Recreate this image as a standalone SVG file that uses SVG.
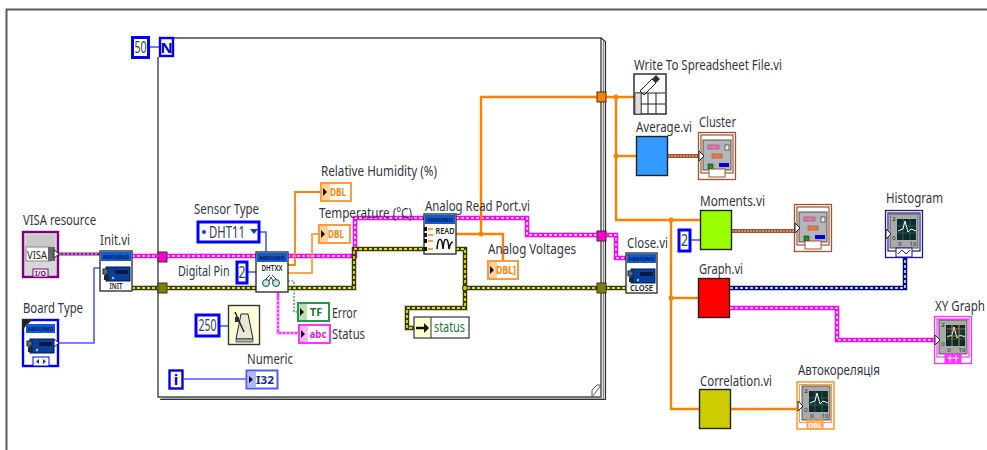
<svg xmlns="http://www.w3.org/2000/svg" width="987" height="450" viewBox="0 0 987 450">
<style>
text{font-family:"Noto Sans","Liberation Sans",sans-serif}
.l{font-size:15px;fill:#2f3640}
.k{fill:none;stroke-linejoin:miter}
.o{stroke:#ff8000;stroke-width:2.4}
.ol{stroke:#ffa64d;stroke-width:2}
.b{stroke:#4a5cff;stroke-width:1.6}
.pk{stroke:#ff00ff;stroke-width:4.500}
.pki{stroke:#fff;stroke-width:1.400;stroke-dasharray:3 2}
.ol5{stroke:#3a3a00;stroke-width:4.500}
.oli{stroke:#e0e000;stroke-width:1.800;stroke-dasharray:3 2}
.nv{stroke:#000a80;stroke-width:4.500}
.nvi{stroke:#fff;stroke-width:1.400;stroke-dasharray:3 2}
.br{stroke:#a5522d;stroke-width:4}
.bri{stroke:#f0c8a8;stroke-width:1.200;stroke-dasharray:2 1}
.pu{stroke:#8a1a8a;stroke-width:3}
.pui{stroke:#f0c0f0;stroke-width:1;stroke-dasharray:2 2}
.pt{stroke:#ff33ff;stroke-width:2.600}
.pti{stroke:#fff;stroke-width:.9;stroke-dasharray:2 2}
.gd{stroke:#1f8a3c;stroke-width:1.200;stroke-dasharray:2 1.500}
.c{fill:#fff;stroke:#0000ff;stroke-width:3}
.cv{font-size:17px;fill:#333a55;text-anchor:middle}
.ard{fill:#0a5cd8}
.ardt{font-size:6px;font-weight:700;fill:#00143c;text-anchor:middle}
.vit{font-size:8.500px;font-weight:600;fill:#222;text-anchor:middle}
.tun{stroke:#333;stroke-width:1}
.ind{stroke-width:2;fill:#fff}
.indt{font-size:11px;font-weight:700;text-anchor:middle}
.sc{font-size:6px;fill:#222;text-anchor:middle}
.frame{fill:none;stroke:#5a5a5a;stroke-width:2}
</style>
<defs>
<g id="board">
<rect x="3" y="4" width="24" height="14" fill="#0a3f9a" stroke="#001a55"/>
<rect x="0" y="6" width="5" height="5" fill="#5a6a80" stroke="#123"/>
<rect x="1" y="12" width="5" height="5" fill="#1a2a3a"/>
<rect x="12" y="7" width="13" height="4" fill="#001a44"/>
<circle cx="10" cy="15" r="1.200" fill="#8cc8ff"/>
</g>
<g id="graph">
<rect x="5" y="4" width="28" height="34" fill="#a9a9a9" stroke="#555"/>
<rect x="12" y="9" width="19" height="21" fill="#0c2c2c"/>
<path d="M12 16H31M12 23H31M18 9V30M25 9V30" stroke="#3a6a6a" stroke-width=".7"/>
<path d="M13 21L18 19L20 11L23 22L26 19L31 21" fill="none" stroke="#fff" stroke-width="1"/>
<text class="sc" x="9" y="11">2</text>
<text class="sc" x="9" y="30">0</text>
<text class="sc" x="15" y="36">0</text>
<text class="sc" x="28" y="36">10</text>
<path d="M1 19L6 24L1 29Z" fill="#fff" stroke="#222"/>
</g>
<g id="clus">
<rect x="5" y="8" width="28" height="30" fill="#b5b5b5" stroke="#555"/>
<rect x="10" y="13" width="11" height="4" fill="#ff69b4" stroke="#555" stroke-width=".5"/>
<rect x="27" y="13" width="4" height="5" fill="#eee" stroke="#222" stroke-width=".6"/>
<rect x="14" y="22" width="10" height="4" fill="#ff7033" stroke="#555" stroke-width=".5"/>
<rect x="10" y="32" width="5" height="5" fill="#00a020" stroke="#222" stroke-width=".6"/>
<rect x="21" y="31" width="10" height="4" fill="#0000e0"/>
<path d="M1 19L6 24L1 29Z" fill="#fff" stroke="#222"/>
</g>
</defs>

<rect width="987" height="450" fill="#fff"/>
<path class="frame" d="M6.500 450V9.500H987"/>

<g id="loop">
<path d="M173 38H601V397H158V57" fill="#fff" stroke="#444" stroke-width="1.400"/>
<path d="M603.500 41V399H161" fill="none" stroke="#888" stroke-width="1.400"/>
<path d="M601 38L605.500 41.500V399.500H160" fill="none" stroke="#333" stroke-width="1.200"/>
<path d="M592 397V390L597 385H601" fill="none" stroke="#555" stroke-width="1"/>
<path d="M592 397L601 385" fill="none" stroke="#555" stroke-width="1"/>
</g>

<g id="connectors">
<polyline class="k b" points="149,47 159,47"/>
<polyline class="k b" points="59,343 94,343 94,268 100,268"/>
<polyline class="k pu" points="59,254 100,254"/><polyline class="k pui" points="59,254 100,254"/>
<polyline class="k pk" points="132,256 355,256 355,218 424,218"/><polyline class="k pki" points="132,256 355,256 355,218 424,218"/>
<polyline class="k pk" points="456,218 527,218 527,235 616,235 616,258 626,258"/><polyline class="k pki" points="456,218 527,218 527,235 616,235 616,258 626,258"/>
<polyline class="k ol5" points="132,288 256,288"/><polyline class="k oli" points="132,288 256,288"/>
<polyline class="k ol5" points="288,288 354,288 354,249 424,249"/><polyline class="k oli" points="288,288 354,288 354,249 424,249"/>
<polyline class="k ol5" points="456,249 465,249 465,288 626,288"/><polyline class="k oli" points="456,249 465,249 465,288 626,288"/>
<polyline class="k ol5" points="465,288 465,308 407,308 407,328 416,328"/><polyline class="k oli" points="465,288 465,308 407,308 407,328 416,328"/>
<polyline class="k b" points="260,232 266,232 266,252"/>
<polyline class="k b" points="248,272 256,272"/>
<polyline class="k b" points="220,326 228,326"/>
<polyline class="k b" points="184,379 246,379"/>
<polyline class="k b" points="691,240 700,240"/>
<polyline class="k o" style="stroke-width:1.800" points="288,265 295,265 295,192 320,192"/>
<polyline class="k ol" points="288,273 312,273 312,234 318,234"/>
<polyline class="k gd" points="288,281 294,281 294,312 298,312"/>
<polyline class="k pt" points="278,292 278,333 298,333"/><polyline class="k pti" points="278,300 278,333 298,333"/>
<polyline class="k o" points="456,234 503,234 503,261"/>
<polyline class="k o" points="481,234 481,97 634,97"/>
<polyline class="k o" points="616,97 616,220 700,220"/>
<polyline class="k o" points="616,156 636,156"/>
<polyline class="k o" points="671,220 671,409 699,409"/>
<polyline class="k o" points="671,298 698,298"/>
<polyline class="k o" points="731,409 797,409"/>
<polyline class="k br" points="668,156 698,156"/><polyline class="k bri" points="668,156 698,156"/>
<polyline class="k br" points="732,231 794,231"/><polyline class="k bri" points="732,231 794,231"/>
<polyline class="k nv" points="730,288 905,288 905,258"/><polyline class="k nvi" points="730,288 905,288 905,258"/>
<polyline class="k pk" points="730,308 837,308 837,340 934,340"/><polyline class="k pki" points="730,308 837,308 837,340 934,340"/>
<circle cx="481" cy="234" r="2.500" fill="#ff8000"/>
<circle cx="616" cy="97" r="2.500" fill="#ff8000"/>
<circle cx="616" cy="156" r="2.500" fill="#ff8000"/>
<circle cx="671" cy="220" r="2.500" fill="#ff8000"/>
<circle cx="671" cy="298" r="2.500" fill="#ff8000"/>
<circle cx="465" cy="288" r="2.500" fill="#d8d800" stroke="#222"/>
</g>

<g id="tunnels">
<rect class="tun" x="158" y="252" width="9" height="10" fill="#ff00cc"/>
<rect class="tun" x="158" y="283" width="9" height="10" fill="#808000"/>
<rect class="tun" x="597" y="92" width="9" height="10" fill="#ff8000"/>
<rect class="tun" x="597" y="231" width="9" height="10" fill="#ff00cc"/>
<rect class="tun" x="597" y="283" width="9" height="10" fill="#808000"/>
</g>

<g id="const-50"><rect class="c" x="132.500" y="37.500" width="16" height="20"/><text class="cv" x="140.500" y="53" textLength="12" lengthAdjust="spacingAndGlyphs">50</text></g>
<g id="count-N"><rect x="160" y="38" width="13" height="18" fill="#fff8e8" stroke="#0000ff" stroke-width="2.400"/><text x="166.500" y="53" font-size="15" font-weight="700" fill="#0000d0" text-anchor="middle">N</text></g>

<g id="visa">
<rect x="23" y="232" width="35" height="45" fill="#d8d8d8" stroke="#800080" stroke-width="2.400"/>
<rect x="26" y="235" width="29" height="14" fill="#c8c8c8"/>
<rect x="26" y="247" width="24" height="14" fill="#fff" stroke="#888"/>
<rect x="48" y="247" width="7" height="14" fill="#666"/>
<text x="37" y="259" font-size="11.500" fill="#222" text-anchor="middle" textLength="20" lengthAdjust="spacingAndGlyphs">VISA</text>
<rect x="33" y="269" width="15" height="8" fill="#fff" stroke="#800080"/>
<text x="40.500" y="276" font-size="7" font-weight="700" fill="#800080" text-anchor="middle">I/O</text>
<path d="M54 250L59 254L54 258Z" fill="#fff" stroke="#222"/>
</g>

<g id="board-type">
<rect x="23" y="320" width="35" height="46" fill="#fff" stroke="#0000ff" stroke-width="2.400"/>
<path d="M22 319H33L22 330Z" fill="#222"/>
<rect x="26" y="324" width="29" height="9" class="ard"/>
<text class="ardt" x="40.500" y="331" textLength="26" lengthAdjust="spacingAndGlyphs">ARDUINO</text>
<use href="#board" transform="translate(27 335)"/>
<rect x="33" y="357" width="16" height="9" fill="#fff" stroke="#0000ff"/>
<path d="M39 359L36 361.500L39 364ZM43 359L46 361.500L43 364Z" fill="#0a3f9a"/>
<path d="M54 339L59 343L54 347Z" fill="#fff" stroke="#222"/>
</g>

<g id="init">
<rect x="100" y="251" width="32" height="40" fill="#fff" stroke="#333" stroke-width="1.400"/>
<rect x="101" y="252" width="30" height="9" class="ard"/>
<text class="ardt" x="116" y="259" textLength="26" lengthAdjust="spacingAndGlyphs">ARDUINO</text>
<use href="#board" transform="translate(103 263)"/>
<text class="vit" x="116" y="289" textLength="13" lengthAdjust="spacingAndGlyphs">INIT</text>
</g>

<g id="dht">
<rect x="256" y="252" width="32" height="40" fill="#fff" stroke="#333" stroke-width="1.400"/>
<rect x="257" y="253" width="30" height="9" class="ard"/>
<text class="ardt" x="272" y="260" textLength="26" lengthAdjust="spacingAndGlyphs">ARDUINO</text>
<text class="vit" x="272" y="271" textLength="21" lengthAdjust="spacingAndGlyphs">DHTXX</text>
<circle cx="266" cy="283" r="3.500" fill="#bfe8e0" stroke="#1a4a4a"/>
<circle cx="276" cy="283" r="3.500" fill="#bfe8e0" stroke="#1a4a4a"/>
<path d="M269 281L271 277L273 281M266 279L270 275M276 279L272 275" fill="none" stroke="#1a4a4a"/>
</g>

<g id="read">
<rect x="424" y="214" width="32" height="40" fill="#fff" stroke="#333" stroke-width="1.400"/>
<rect x="425" y="215" width="30" height="9" class="ard"/>
<text class="ardt" x="440" y="222" textLength="26" lengthAdjust="spacingAndGlyphs">ARDUINO</text>
<text class="vit" x="445" y="234" textLength="19" lengthAdjust="spacingAndGlyphs">READ</text>
<path d="M428 229H433M428 235H433M428 241H433M428 249H433" stroke="#ff8000" stroke-width="1.500"/>
<rect x="424" y="227" width="3" height="4" fill="#111"/><rect x="424" y="233" width="3" height="4" fill="#111"/><rect x="424" y="239" width="3" height="4" fill="#111"/><rect x="424" y="247" width="3" height="4" fill="#111"/>
<path d="M437 249C438 236 442 236 443 249C444 236 448 236 449 249C450 244 451 242 453 242" fill="none" stroke="#111" stroke-width="1.600"/>
</g>

<g id="close">
<rect x="626" y="253" width="31" height="40" fill="#fff" stroke="#333" stroke-width="1.400"/>
<rect x="627" y="254" width="29" height="9" class="ard"/>
<text class="ardt" x="641.500" y="261" textLength="26" lengthAdjust="spacingAndGlyphs">ARDUINO</text>
<use href="#board" transform="translate(628 265)"/>
<text class="vit" x="641.500" y="291" textLength="23" lengthAdjust="spacingAndGlyphs">CLOSE</text>
</g>

<g id="status">
<rect x="414" y="317" width="55" height="21" fill="#fff" stroke="#333" stroke-width="1.200"/>
<rect x="415" y="318" width="16" height="19" fill="#ffffcc"/>
<path d="M431 317V338" stroke="#333"/>
<path d="M416 328H425" stroke="#111" stroke-width="2.500"/><path d="M424 323L429 328L424 333Z" fill="#111"/>
<text x="434" y="332" font-size="15" fill="#1a7a3a" textLength="31" lengthAdjust="spacingAndGlyphs">status</text>
</g>

<g id="sensor-type">
<rect class="c" x="198" y="222" width="61" height="20"/>
<circle cx="204" cy="232" r="2" fill="#1a3ac8"/>
<text x="209" y="238" font-size="16" fill="#333a55" textLength="36" lengthAdjust="spacingAndGlyphs">DHT11</text>
<path d="M250 229H258L254 234Z" fill="#0a3fb0"/>
</g>
<g id="const-2"><rect class="c" x="237" y="262" width="10" height="21"/><text class="cv" x="242" y="278" textLength="7" lengthAdjust="spacingAndGlyphs">2</text></g>
<g id="const-250"><rect class="c" x="196" y="315" width="23" height="21"/><text class="cv" x="207.500" y="331" textLength="18" lengthAdjust="spacingAndGlyphs">250</text></g>
<g id="wait">
<rect x="228.500" y="305.500" width="31" height="39" fill="#ffffd8" stroke="#333" stroke-width="1.400"/>
<path d="M236 339L241 314H248L253 339Z" fill="#e8e8d8" stroke="#222"/>
<path d="M236 339H253V342H236Z" fill="#bbb" stroke="#222" stroke-width=".7"/>
<path d="M235 312L244 332" stroke="#222" stroke-width="1.500"/>
<rect x="235" y="317" width="4" height="5" fill="#333"/>
</g>
<g id="iter"><rect x="169.500" y="370.500" width="13" height="18" fill="#fff8e8" stroke="#0000ff" stroke-width="2.400"/><text x="176" y="385" font-size="15" font-weight="700" fill="#0000d0" text-anchor="middle">i</text></g>
<g id="numeric">
<rect class="ind" x="246.500" y="370.500" width="31" height="18" stroke="#4a5cff"/><rect x="248" y="372" width="8" height="15" fill="#b0b8ff"/>
<path d="M249 376L253 379.500L249 383Z" fill="#111"/>
<text class="indt" x="265" y="384" fill="#1a2aa0" textLength="18" lengthAdjust="spacingAndGlyphs">I32</text>
</g>

<g id="humidity">
<rect class="ind" x="321" y="183" width="30" height="18" stroke="#ff9a3c"/><rect x="322" y="184" width="8" height="16" fill="#ffd2a0"/>
<path d="M323 188L327 192L323 196Z" fill="#111"/><text class="indt" x="338" y="196" fill="#ff8000" textLength="16" lengthAdjust="spacingAndGlyphs">DBL</text>
</g>
<g id="temperature">
<rect class="ind" x="319" y="225" width="31" height="18" stroke="#ff9a3c"/><rect x="320" y="226" width="8" height="16" fill="#ffd2a0"/>
<path d="M321 230L325 234L321 238Z" fill="#111"/><text class="indt" x="336" y="238" fill="#ff8000" textLength="16" lengthAdjust="spacingAndGlyphs">DBL</text>
</g>
<g id="voltages">
<rect class="ind" x="488" y="261" width="30" height="18" stroke="#ff9a3c"/><rect x="489" y="262" width="8" height="16" fill="#ffd2a0"/>
<path d="M490 266L494 270L490 274Z" fill="#111"/><text class="indt" x="506" y="274" fill="#ff8000" textLength="20" lengthAdjust="spacingAndGlyphs">DBL]</text>
</g>
<g id="error">
<rect class="ind" x="298" y="303" width="31" height="18" stroke="#2a9a40"/><rect x="299" y="304" width="8" height="16" fill="#b8e0b8"/>
<path d="M300 308L304 312L300 316Z" fill="#111"/><text class="indt" x="316" y="316" fill="#1a7a30">TF</text>
</g>
<g id="status-ind">
<rect class="ind" x="299" y="325" width="31" height="18" stroke="#ff33ff"/><rect x="300" y="326" width="8" height="16" fill="#ffb8ff"/>
<path d="M301 330L305 334L301 338Z" fill="#111"/><text class="indt" x="318" y="338" fill="#e020e0" textLength="17" lengthAdjust="spacingAndGlyphs">abc</text>
</g>

<g id="write-spreadsheet">
<rect x="634" y="74" width="32" height="40" fill="#fff" stroke="#222" stroke-width="1.400"/>
<path d="M640 91L652 79L656 83L644 95Z" fill="#fff" stroke="#222"/><path d="M652 79L656 75L660 79L656 83Z" fill="#333"/>
<path d="M635 93H665M635 104H665M641 93V114M648 93V114M656 93V114" stroke="#222" fill="none"/>
<rect x="635" y="93" width="6" height="21" fill="#ddd" stroke="#222" stroke-width=".6"/>
</g>
<g id="average"><rect x="636.500" y="136.500" width="31" height="39" fill="#3399ff" stroke="#222" stroke-width="1.400"/></g>
<g id="moments"><rect x="700.500" y="210.500" width="31" height="39" fill="#99ff00" stroke="#222" stroke-width="1.400"/></g>
<g id="graph-vi"><rect x="698.500" y="278.500" width="31" height="39" fill="#ff0000" stroke="#222" stroke-width="1.400"/></g>
<g id="correlation"><rect x="699.500" y="389.500" width="31" height="39" fill="#cccc00" stroke="#222" stroke-width="1.400"/></g>
<g id="const-2b"><rect class="c" x="679" y="230" width="11" height="21"/><text class="cv" x="684.500" y="246" textLength="7" lengthAdjust="spacingAndGlyphs">2</text></g>

<g id="cluster1">
<rect x="698.500" y="132.500" width="37" height="47" fill="#fff" stroke="#a5522d" stroke-width="1.300"/>
<rect x="701" y="135" width="32" height="38" fill="#fff" stroke="#a5522d" stroke-width="1.200"/>
<use href="#clus" transform="translate(698 132)"/>
<rect x="709" y="169" width="16" height="8" fill="#fff" stroke="#a5522d"/>
</g>
<g id="cluster2">
<rect x="794.500" y="204.500" width="37" height="47" fill="#fff" stroke="#a5522d" stroke-width="1.300"/>
<rect x="797" y="207" width="32" height="38" fill="#fff" stroke="#a5522d" stroke-width="1.200"/>
<use href="#clus" transform="translate(794 204)"/>
<rect x="805" y="241" width="16" height="8" fill="#fff" stroke="#a5522d"/>
</g>
<g id="histogram">
<rect x="885.500" y="210.500" width="37" height="47" fill="#fff" stroke="#1a1a8a" stroke-width="1.300"/>
<rect x="888" y="213" width="32" height="38" fill="#fff" stroke="#1a1a8a" stroke-width="1.200"/>
<use href="#graph" transform="translate(885 210)"/>
<rect x="896" y="248" width="16" height="9" fill="#fff" stroke="#1a1a8a"/>
<path d="M898 254L902 250L906 254L910 250" fill="none" stroke="#1a1a8a"/>
</g>
<g id="xy-graph">
<rect x="934.500" y="316.500" width="37" height="47" fill="#fff" stroke="#ff33ff" stroke-width="1.300"/>
<rect x="937" y="319" width="32" height="38" fill="#fff" stroke="#ff33ff" stroke-width="1.200"/>
<use href="#graph" transform="translate(934 316)"/>
<path d="M947 329H965M947 336H965M952 325V346M959 325V346" stroke="#d08a30" stroke-width=".8"/>
<rect x="945" y="354" width="16" height="9" fill="#ff33ff" stroke="#ff33ff"/>
<path d="M947 358H959M950 355V362M956 355V362" stroke="#fff"/>
</g>
<g id="autokor">
<rect x="797" y="382" width="37" height="47" fill="#fff" stroke="#ff9a3c" stroke-width="1.600"/>
<rect x="799.500" y="384.500" width="32" height="38" fill="#fff" stroke="#ff9a3c" stroke-width="1"/>
<use href="#graph" transform="translate(797 382)"/>
<rect x="807" y="420" width="16" height="9" fill="#ffb060" stroke="#ff9a3c"/>
<text x="815" y="427.500" font-size="7" font-weight="700" fill="#fff" text-anchor="middle">DBL</text>
</g>

<g id="labels">
<text class="l" x="634" y="70" textLength="148" lengthAdjust="spacingAndGlyphs">Write To Spreadsheet File.vi</text>
<text class="l" x="636" y="132" textLength="56" lengthAdjust="spacingAndGlyphs">Average.vi</text>
<text class="l" x="699" y="127" textLength="37" lengthAdjust="spacingAndGlyphs">Cluster</text>
<text class="l" x="700" y="206" textLength="65" lengthAdjust="spacingAndGlyphs">Moments.vi</text>
<text class="l" x="627" y="248" textLength="41" lengthAdjust="spacingAndGlyphs">Close.vi</text>
<text class="l" x="699" y="274" textLength="44" lengthAdjust="spacingAndGlyphs">Graph.vi</text>
<text class="l" x="886" y="203" textLength="57" lengthAdjust="spacingAndGlyphs">Histogram</text>
<text class="l" transform="translate(935 311) scale(.77 1)">XY Graph</text>
<text class="l" x="700" y="386" textLength="72" lengthAdjust="spacingAndGlyphs">Correlation.vi</text>
<text class="l" x="798" y="375" textLength="82" lengthAdjust="spacingAndGlyphs">Автокореляція</text>
<text class="l" x="23" y="225" textLength="73" lengthAdjust="spacingAndGlyphs">VISA resource</text>
<text class="l" x="23" y="313" textLength="60" lengthAdjust="spacingAndGlyphs">Board Type</text>
<text class="l" x="100" y="245" textLength="30" lengthAdjust="spacingAndGlyphs">Init.vi</text>
<text class="l" x="194" y="214" textLength="65" lengthAdjust="spacingAndGlyphs">Sensor Type</text>
<text class="l" transform="translate(178 276) scale(.72 1)">Digital Pin</text>
<text class="l" x="247" y="364" textLength="46" lengthAdjust="spacingAndGlyphs">Numeric</text>
<text class="l" x="321" y="176" textLength="116" lengthAdjust="spacingAndGlyphs">Relative Humidity (%)</text>
<text class="l" x="319" y="218" textLength="93" lengthAdjust="spacingAndGlyphs">Temperature (°C)</text>
<text class="l" x="425" y="211" textLength="105" lengthAdjust="spacingAndGlyphs">Analog Read Port.vi</text>
<text class="l" x="488" y="254" textLength="88" lengthAdjust="spacingAndGlyphs">Analog Voltages</text>
<text class="l" x="332" y="318" textLength="25" lengthAdjust="spacingAndGlyphs">Error</text>
<text class="l" x="332" y="339" textLength="33" lengthAdjust="spacingAndGlyphs">Status</text>
</g>
</svg>
